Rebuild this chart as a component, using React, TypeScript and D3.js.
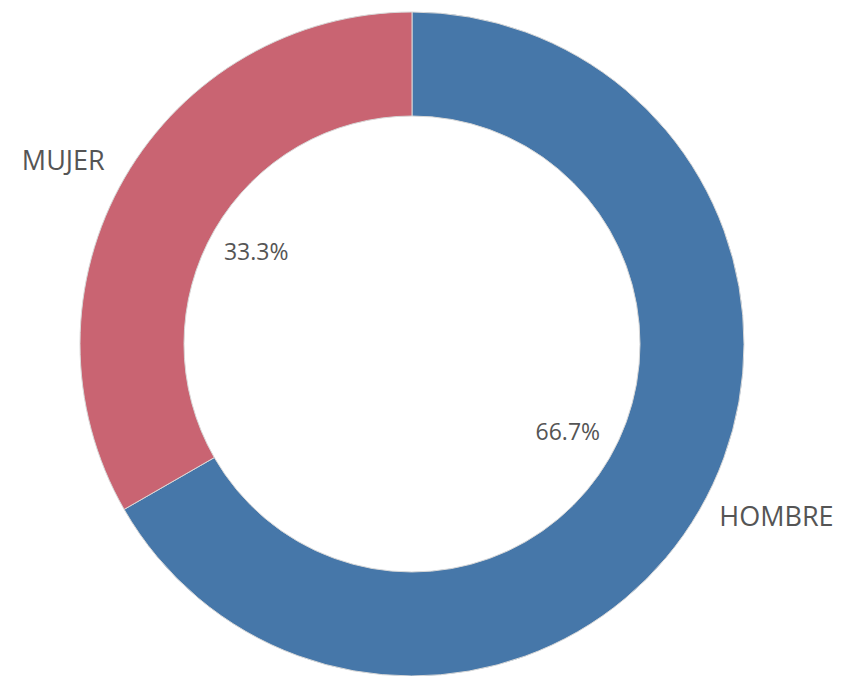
import React, { useRef, useEffect } from "react";
import * as d3 from "d3";

const categories = ["HOMBRE", "MUJER"];
const values = [66.7, 33.3];
const colors = ["#4677a9", "#c96472"];

const App = () => {
  const svgRef = useRef<SVGSVGElement>(null);

  useEffect(() => {
    const width = 841;
    const height = 676;
    const cx = 412;
    const cy = 344;
    const outer = 332;
    const inner = 228;

    const svg = d3.select(svgRef.current);
    svg.selectAll("*").remove();

    const data = categories.map((c, i) => ({ name: c, value: values[i], color: colors[i] }));

    const pie = d3
      .pie<any>()
      .value(d => d.value)
      .sort(null);
    const arcs = pie(data);

    const arc = d3.arc<any>().innerRadius(inner).outerRadius(outer);

    const g = svg.append("g").attr("transform", `translate(${cx},${cy})`);

    g.selectAll("path")
      .data(arcs)
      .enter()
      .append("path")
      .attr("d", arc)
      .attr("fill", d => d.data.color)
      .attr("stroke", "#d8d8d8")
      .attr("stroke-width", 1);

    const mid = (d: any) => (d.startAngle + d.endAngle) / 2;

    // percent labels inside the hole
    g.selectAll("text.pct")
      .data(arcs)
      .enter()
      .append("text")
      .attr("class", "pct")
      .attr("x", d => 180 * Math.sin(mid(d)))
      .attr("y", d => -180 * Math.cos(mid(d)))
      .attr("text-anchor", "middle")
      .attr("dominant-baseline", "middle")
      .attr("font-size", 23)
      .attr("fill", "#555")
      .text(d => d.data.value.toFixed(1) + "%");

    // category labels outside
    g.selectAll("text.cat")
      .data(arcs)
      .enter()
      .append("text")
      .attr("class", "cat")
      .attr("x", d => 355 * Math.sin(mid(d)))
      .attr("y", d => -355 * Math.cos(mid(d)) - 3)
      .attr("text-anchor", d => (Math.sin(mid(d)) < 0 ? "end" : "start"))
      .attr("dominant-baseline", "middle")
      .attr("font-size", 27)
      .attr("fill", "#555")
      .text(d => d.data.name);

    svg.attr("width", width).attr("height", height);
  }, []);

  return (
    <svg
      ref={svgRef}
      width={841}
      height={676}
      style={{ position: "absolute", top: 0, left: 0, fontFamily: "'Open Sans', sans-serif", background: "#fff" }}
    />
  );
};

export default App;
